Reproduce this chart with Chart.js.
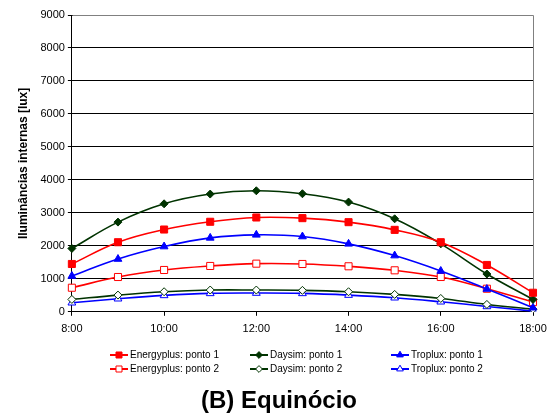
<!DOCTYPE html>
<html>
<head>
<meta charset="utf-8">
<script src="https://cdn.jsdelivr.net/npm/chart.js@4/dist/chart.umd.min.js"></script>
<style>
  html, body { margin: 0; padding: 0; background: #fff; }
  #wrap { width: 559px; height: 415px; }
</style>
</head>
<body>
<div id="wrap"><canvas id="chart" width="559" height="415"></canvas></div>
<script>
const hours = ['8:00', '9:00', '10:00', '11:00', '12:00', '13:00', '14:00', '15:00', '16:00', '17:00', '18:00'];
const energyplus1 = [1450, 2110, 2495, 2730, 2860, 2840, 2718, 2485, 2110, 1420, 578];
const energyplus2 = [730, 1055, 1268, 1390, 1460, 1450, 1380, 1258, 1055, 700, 294];
const daysim1 = [1920, 2720, 3275, 3570, 3670, 3580, 3327, 2820, 2060, 1146, 375];
const daysim2 = [375, 507, 608, 660, 660, 650, 608, 527, 405, 223, 81];
const troplux1 = [1085, 1600, 1978, 2241, 2333, 2282, 2060, 1704, 1237, 690, 122];
const troplux2 = [274, 396, 497, 558, 568, 558, 507, 426, 304, 162, 20];

const RED = '#ff0000';
const GREEN = '#003300';
const BLUE = '#0000ff';
const FONT = "'Liberation Sans', Arial, sans-serif";

function series(label, data, color, style, radius, filled) {
  return {
    label,
    data,
    borderColor: color,
    backgroundColor: color,
    borderWidth: 1.6,
    tension: 0.4,
    pointStyle: style,
    pointRadius: radius,
    pointBorderWidth: 1,
    pointBorderColor: color,
    pointBackgroundColor: filled ? color : '#ffffff',
    fill: false,
  };
}

const datasets = [
  series('Energyplus: ponto 1', energyplus1, RED, 'rect', 5, true),
  series('Daysim: ponto 1', daysim1, GREEN, 'rectRot', 4, true),
  series('Troplux: ponto 1', troplux1, BLUE, 'triangle', 4.5, true),
  series('Energyplus: ponto 2', energyplus2, RED, 'rect', 5, false),
  series('Daysim: ponto 2', daysim2, GREEN, 'rectRot', 4, false),
  series('Troplux: ponto 2', troplux2, BLUE, 'triangle', 4.5, false),
];

// 3 x 2 legend grid and caption under it, like the spreadsheet original
const legendGrid = {
  id: 'legendGrid',
  afterDraw(chart) {
    const ctx = chart.ctx;
    const cols = [110, 250, 391];
    const rows = [355, 369];
    ctx.save();
    chart.data.datasets.forEach((ds, i) => {
      const x = cols[i % 3];
      const y = rows[Math.floor(i / 3)];
      ctx.strokeStyle = ds.borderColor;
      ctx.lineWidth = 2;
      ctx.beginPath();
      ctx.moveTo(x, y);
      ctx.lineTo(x + 18, y);
      ctx.stroke();
      ctx.fillStyle = ds.pointBackgroundColor;
      ctx.strokeStyle = ds.borderColor;
      ctx.lineWidth = 1;
      Chart.helpers.drawPoint(ctx, { pointStyle: ds.pointStyle, radius: ds.pointRadius * 0.85, rotation: 0, borderWidth: 1 }, x + 9, y);
      ctx.fillStyle = '#000';
      ctx.font = '10px ' + FONT;
      ctx.textBaseline = 'middle';
      ctx.textAlign = 'left';
      ctx.fillText(ds.label, x + 20, y + 0.5);
    });
    ctx.font = 'bold 24px ' + FONT;
    ctx.textAlign = 'center';
    ctx.textBaseline = 'alphabetic';
    ctx.fillText('(B) Equinócio', 279, 408);
    ctx.restore();
  },
};

const plotFrame = {
  id: 'plotFrame',
  beforeDatasetsDraw(chart) {
    const a = chart.chartArea;
    const ctx = chart.ctx;
    ctx.save();
    ctx.strokeStyle = '#808080';
    ctx.lineWidth = 1;
    ctx.beginPath();
    ctx.moveTo(Math.round(a.left) + 0.5, Math.round(a.top) + 0.5);
    ctx.lineTo(Math.round(a.right) + 0.5, Math.round(a.top) + 0.5);
    ctx.lineTo(Math.round(a.right) + 0.5, Math.round(a.bottom) + 0.5);
    ctx.stroke();
    ctx.restore();
  },
};

new Chart(document.getElementById('chart').getContext('2d'), {
  type: 'line',
  data: { labels: hours, datasets },
  plugins: [legendGrid, plotFrame],
  options: {
    responsive: false,
    animation: false,
    layout: { padding: { left: 16, right: 26, top: 15, bottom: 72 } },
    plugins: {
      legend: { display: false },
      tooltip: { enabled: false },
      title: { display: false },
    },
    scales: {
      x: {
        offset: false,
        grid: {
          drawOnChartArea: false,
          tickLength: 4,
          tickColor: (c) => (c.index % 2 === 0 ? '#000' : 'rgba(0,0,0,0)'),
        },
        border: { color: '#000', width: 1 },
        ticks: {
          autoSkip: false,
          maxRotation: 0,
          color: '#000',
          font: { family: FONT, size: 11 },
          padding: 7,
          callback: (v, i) => (i % 2 === 0 ? hours[i] : ''),
        },
      },
      y: {
        min: 0,
        max: 9000,
        grid: { color: '#000', tickLength: 4, tickColor: '#000' },
        border: { color: '#000', width: 1 },
        ticks: {
          stepSize: 1000,
          color: '#000',
          font: { family: FONT, size: 11 },
          padding: 3,
          callback: (v) => String(v),
        },
        title: {
          display: true,
          text: 'Iluminâncias internas [lux]',
          color: '#000',
          font: { family: FONT, size: 12, weight: 'bold' },
          padding: { top: 0, bottom: 7 },
        },
      },
    },
  },
});
</script>
</body>
</html>
